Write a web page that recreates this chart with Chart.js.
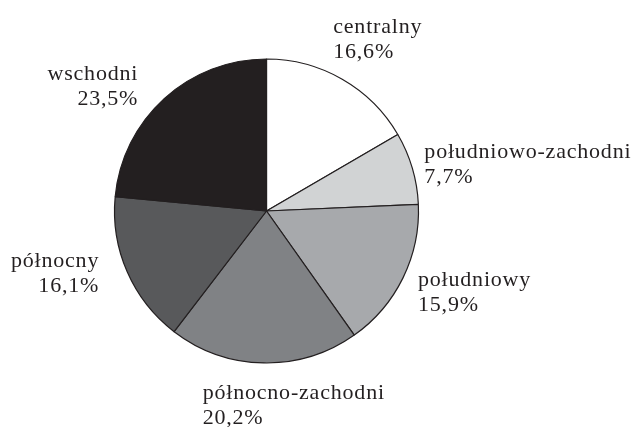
<!DOCTYPE html>
<html lang="pl">
<head>
<meta charset="utf-8">
<script src="https://cdn.jsdelivr.net/npm/chart.js@4/dist/chart.umd.min.js"></script>
<style>
    html, body { margin: 0; padding: 0; background: #ffffff; }
    #wrap { width: 639px; height: 427px; }
</style>
</head>
<body>
<div id="wrap"><canvas id="regionChart"></canvas></div>
<script>
const regions = ['centralny', 'południowo-zachodni', 'południowy', 'północno-zachodni', 'północny', 'wschodni'];
const shares = [16.6, 7.7, 15.9, 20.2, 16.1, 23.5];
const sliceColors = ['#ffffff', '#d1d3d4', '#a7a9ac', '#808285', '#58595b', '#231f20'];

// where each label sits, relative to the middle of its arc edge
const labelPlacement = [
    { align: 'left',  dx: -9,  dy: -46 },
    { align: 'left',  dx: 12,  dy: -10 },
    { align: 'left',  dx: 15,  dy: 8 },
    { align: 'left',  dx: -61, dy: 36 },
    { align: 'right', dx: -28, dy: -5 },
    { align: 'right', dx: -26, dy: -19 }
];
const lineGap = 25;

function formatShare(v) {
    return v.toFixed(1).replace('.', ',') + '%';
}

const outsideLabels = {
    id: 'outsideLabels',
    afterDatasetsDraw(chart) {
        const ctx = chart.ctx;
        const arcs = chart.getDatasetMeta(0).data;
        ctx.save();
        ctx.font = '22px "Liberation Serif", "Times New Roman", serif';
        ctx.letterSpacing = '0.8px';
        ctx.fillStyle = '#231f20';
        ctx.textBaseline = 'alphabetic';
        arcs.forEach((arc, i) => {
            const p = arc.getProps(['x', 'y', 'startAngle', 'endAngle', 'outerRadius'], true);
            const mid = (p.startAngle + p.endAngle) / 2;
            const ex = p.x + Math.cos(mid) * p.outerRadius;
            const ey = p.y + Math.sin(mid) * p.outerRadius;
            const place = labelPlacement[i];
            ctx.textAlign = place.align;
            ctx.fillText(regions[i], ex + place.dx, ey + place.dy);
            ctx.fillText(formatShare(shares[i]), ex + place.dx, ey + place.dy + lineGap);
        });
        ctx.restore();
    }
};

new Chart(document.getElementById('regionChart'), {
    type: 'pie',
    data: {
        labels: regions,
        datasets: [{
            data: shares,
            backgroundColor: sliceColors,
            borderColor: '#231f20',
            borderWidth: 1.2,
            radius: 152
        }]
    },
    options: {
        responsive: true,
        maintainAspectRatio: false,
        animation: false,
        layout: { padding: { left: 10, right: 116, top: 10, bottom: 15 } },
        plugins: {
            legend: { display: false },
            tooltip: { enabled: false }
        }
    },
    plugins: [outsideLabels]
});
</script>
</body>
</html>
